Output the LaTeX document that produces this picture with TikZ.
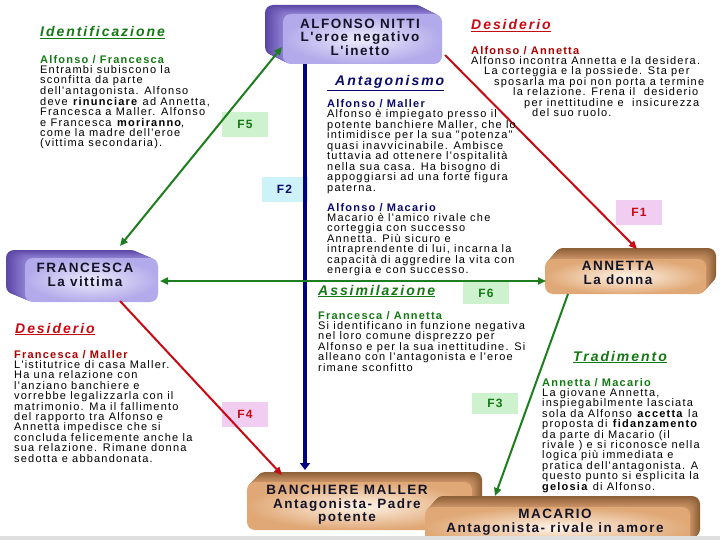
\documentclass[tikz,border=0pt]{standalone}
\usepackage{fontspec}
\setmainfont{Liberation Sans}
\newfontfamily\bodyf{Liberation Sans}[LetterSpace=11]
\newfontfamily\headf{Liberation Sans}[LetterSpace=14]
\newfontfamily\boxf{Liberation Sans}[LetterSpace=11]
\usetikzlibrary{arrows.meta}
\definecolor{grn}{RGB}{20,120,20}
\definecolor{lgrn}{RGB}{30,125,30}
\definecolor{rd}{RGB}{200,10,20}
\definecolor{drd}{RGB}{170,0,0}
\definecolor{nvy}{RGB}{10,10,110}
\definecolor{bline}{RGB}{0,0,130}
\definecolor{lvdark}{RGB}{90,70,165}
\definecolor{lvside}{RGB}{140,125,208}
\definecolor{lvin}{RGB}{238,236,252}
\definecolor{lvout}{RGB}{178,170,234}
\definecolor{tndark}{RGB}{140,95,55}
\definecolor{tnside}{RGB}{200,145,100}
\definecolor{tnin}{RGB}{255,244,232}
\definecolor{tnout}{RGB}{224,168,118}
\definecolor{fgreen}{RGB}{205,242,205}
\definecolor{fcyan}{RGB}{205,242,250}
\definecolor{fpink}{RGB}{242,205,242}
\definecolor{boxtxt}{RGB}{20,20,40}
\newcommand\extbox[8]{%
  \foreach \k in {14,13,...,1}{%
    \pgfmathsetmacro\fr{\k/14}%
    \pgfmathsetmacro\pc{(\k-1)/13*100}%
    \fill[rounded corners=8pt,#7!\pc!#8] ({#1+\fr*(#5)},{#2+\fr*(#6)}) rectangle ({#3+\fr*(#5)},{#4+\fr*(#6)});
  }%
}
\tikzset{
  body/.style={anchor=north west, inner sep=0pt, align=left, font={\bodyf\fontsize{11}{10.4}\selectfont}},
  head/.style={anchor=base west, inner sep=0pt, font={\headf\fontsize{14}{16}\selectfont\bfseries\itshape}},
  boxlab/.style={inner sep=0pt, align=center, text=boxtxt, font={\boxf\fontsize{13.5}{13.5}\selectfont\bfseries}},
  flab/.style={minimum width=46pt, minimum height=25pt, inner sep=0pt, font={\boxf\fontsize{12}{12}\selectfont\bfseries}},
  garrow/.style={draw=lgrn, line width=2pt, {Triangle[length=8pt,width=7pt]}-{Triangle[length=8pt,width=7pt]}},
  grarrow/.style={draw=lgrn, line width=2pt, -{Triangle[length=8pt,width=7pt]}},
  rarrow/.style={draw=rd, line width=2pt, -{Triangle[length=8pt,width=7pt]}},
  barrow/.style={draw=bline, line width=4pt, -{Triangle[length=7pt,width=10pt]}},
}
\begin{document}
\begin{tikzpicture}[x=1pt,y=-1pt]
\useasboundingbox (0,0) rectangle (720,540);
\fill[white] (0,0) rectangle (720,540);
% boxes
\extbox{283}{14}{442}{64}{-18}{-9}{lvdark}{lvside}
\shade[rounded corners=8pt, inner color=lvin, outer color=lvout] (283,14) rectangle (442,64);
\extbox{25}{258}{158}{302}{-19}{-8}{lvdark}{lvside}
\shade[rounded corners=8pt, inner color=lvin, outer color=lvout] (25,258) rectangle (158,302);
\extbox{545}{259}{706}{294}{10}{-11}{tndark}{tnside}
\shade[rounded corners=8pt, inner color=tnin, outer color=tnout] (545,259) rectangle (706,294);
\extbox{247}{482}{472}{530}{10}{-10}{tndark}{tnside}
\shade[rounded corners=8pt, inner color=tnin, outer color=tnout] (247,482) rectangle (472,530);
\extbox{425}{507}{690}{548}{10}{-11}{tndark}{tnside}
\shade[rounded corners=8pt, inner color=tnin, outer color=tnout] (425,507) rectangle (690,548);
\fill[gray!25] (0,536) rectangle (720,540);
% box labels
\node[boxlab] (alf) at (360,37) {ALFONSO NITTI\\L'eroe negativo\\L'inetto};
\node[boxlab] (fra) at (85,275) {FRANCESCA\\La vittima};
\node[boxlab] (ann) at (618,273) {ANNETTA\\La donna};
\node[boxlab] (ban) at (347,505) {BANCHIERE MALLER\\Antagonista- Padre\\potente};
\node[boxlab] (mac) at (555,522) {MACARIO\\Antagonista- rivale in amore};
% F labels
\node[flab, fill=fgreen, text=grn] (f5) at (245,124.5) {F5};
\node[flab, fill=fcyan, text=nvy] (f2) at (284.5,189.5) {F2};
\node[flab, fill=fpink, text=rd] (f4) at (245,414.5) {F4};
\node[flab, fill=fpink, text=rd] (f1) at (639,212.5) {F1};
\node[flab, fill=fgreen, text=grn, minimum height=22pt] (f6) at (486,293) {F6};
\node[flab, fill=fgreen, text=grn, minimum height=21pt] (f3) at (495,403) {F3};
% connector end points
\coordinate (alfB) at (305,64);
\coordinate (banT) at (305,470);
\coordinate (franTR) at (120,246);
\coordinate (alfL) at (282,47);
\coordinate (alfR) at (445,55);
\coordinate (annT) at (637,249);
\coordinate (franR) at (160,281);
\coordinate (annL) at (546,281);
\coordinate (franB) at (120,301);
\coordinate (banL) at (282,475);
\coordinate (annB) at (568,294);
\coordinate (macT) at (495,496);
% connectors
\draw[barrow] (alfB) -- (banT);
\draw[garrow] (franTR) -- (alfL);
\draw[rarrow] (alfR) -- (annT);
\draw[garrow] (franR) -- (annL);
\draw[rarrow] (franB) -- (banL);
\draw[grarrow] (annB) -- (macT);
% headings
\node[head, text=grn] (h1) at (40,37) {\underline{Identificazione}};
\node[head, text=rd] (h2) at (471,30) {\underline{Desiderio}};
\node[head, text=nvy] (h3) at (327,86) {\underline{\hspace*{8pt}Antagonismo}};
\node[head, text=grn] (h4) at (318,295) {\underline{Assimilazione}};
\node[head, text=rd] (h5) at (15,333) {\underline{Desiderio}};
\node[head, text=grn] (h6) at (573,361) {\underline{Tradimento}};
% text blocks
\node[body, font={\bodyf\fontsize{11}{10.1}\selectfont}] (b1) at (40,55) {\textcolor{grn}{\textbf{Alfonso / Francesca}}\\
Entrambi subiscono la\\
sconfitta da parte\\
dell'antagonista. Alfonso\\
deve \textbf{rinunciare} ad Annetta,\\
Francesca a Maller. Alfonso\\
e Francesca \textbf{moriranno},\\
come la madre dell'eroe\\
(vittima secondaria).};
\node[body] (b2) at (471,46) {\textcolor{drd}{\textbf{Alfonso / Annetta}}\\
Alfonso incontra Annetta e la desidera.\\
\hspace*{13pt}La corteggia e la possiede. Sta per\\
\hspace*{23pt}sposarla ma poi non porta a termine\\
\hspace*{42pt}la relazione. Frena il \ desiderio\\
\hspace*{53pt}per inettitudine e \ insicurezza\\
\hspace*{61pt}del suo ruolo.};
\node[body, font={\bodyf\fontsize{11}{10.5}\selectfont}] (b3) at (327,99) {\textcolor{nvy}{\textbf{Alfonso / Maller}}\\
Alfonso è impiegato presso il\\
potente banchiere Maller, che lo\\
intimidisce per la sua "potenza"\\
quasi inavvicinabile. Ambisce\\
tuttavia ad ottenere l'ospitalità\\
nella sua casa. Ha bisogno di\\
appoggiarsi ad una forte figura\\
paterna.};
\node[body] (b4) at (327,203) {\textcolor{nvy}{\textbf{Alfonso / Macario}}\\
Macario è l'amico rivale che\\
corteggia con successo\\
Annetta. Più sicuro e\\
intraprendente di lui, incarna la\\
capacità di aggredire la vita con\\
energia e con successo.};
\node[body] (b5) at (318,311) {\textcolor{grn}{\textbf{Francesca / Annetta}}\\
Si identificano in funzione negativa\\
nel loro comune disprezzo per\\
Alfonso e per la sua inettitudine. Si\\
alleano con l'antagonista e l'eroe\\
rimane sconfitto};
\node[body] (b6) at (14,350) {\textcolor{drd}{\textbf{Francesca / Maller}}\\
L'istitutrice di casa Maller.\\
Ha una relazione con\\
l'anziano banchiere e\\
vorrebbe legalizzarla con il\\
matrimonio. Ma il fallimento\\
del rapporto tra Alfonso e\\
Annetta impedisce che si\\
concluda felicemente anche la\\
sua relazione. Rimane donna\\
sedotta e abbandonata.};
\node[body] (b7) at (542,378) {\textcolor{grn}{\textbf{Annetta / Macario}}\\
La giovane Annetta,\\
inspiegabilmente lasciata\\
sola da Alfonso \textbf{accetta} la\\
proposta di \textbf{fidanzamento}\\
da parte di Macario (il\\
rivale ) e si riconosce nella\\
logica più immediata e\\
pratica dell'antagonista. A\\
questo punto si esplicita la\\
\textbf{gelosia} di Alfonso.};
\end{tikzpicture}
\end{document}
